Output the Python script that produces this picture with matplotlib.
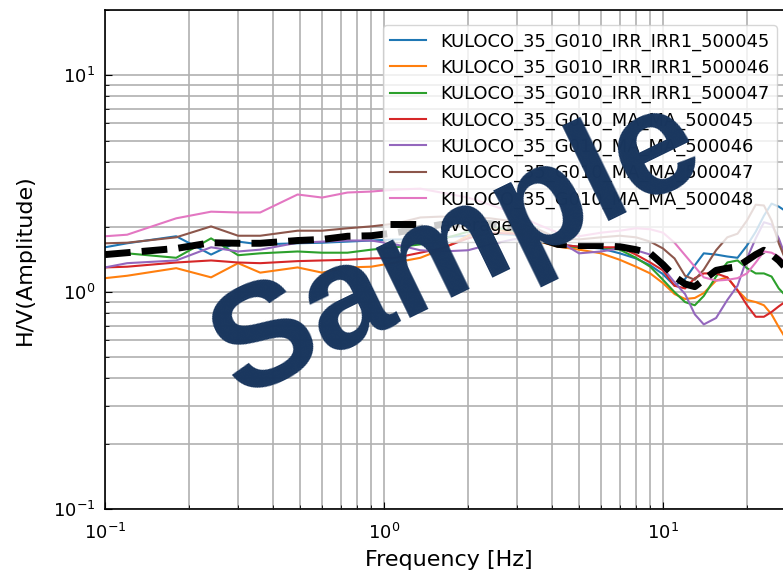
import matplotlib
matplotlib.use("Agg")
import matplotlib.pyplot as plt
from matplotlib import font_manager

# H/V spectral ratios per recording
freq = [0.1, 0.12, 0.18, 0.24, 0.3, 0.36, 0.49, 0.6, 0.74, 0.9, 1.1, 1.35, 1.6,
        2.0, 2.4, 2.9, 3.5, 4.2, 5.0, 6.0, 7.0, 8.0, 9.0, 10, 11, 12, 13, 14,
        15.5, 17, 18.5, 20, 21.5, 23, 24.5, 26, 28]

labels = ["KULOCO_35_G010_IRR_IRR1_500045",
          "KULOCO_35_G010_IRR_IRR1_500046",
          "KULOCO_35_G010_IRR_IRR1_500047",
          "KULOCO_35_G010_MA_MA_500045",
          "KULOCO_35_G010_MA_MA_500046",
          "KULOCO_35_G010_MA_MA_500047",
          "KULOCO_35_G010_MA_MA_500048"]

hv_irr_45 = [1.61, 1.68, 1.81, 1.49, 1.71, 1.66, 1.68, 1.69, 1.71, 1.73, 1.75, 1.75, 1.79,
             1.82, 1.86, 1.84, 1.77, 1.66, 1.62, 1.59, 1.51, 1.43, 1.33, 1.21, 1.07, 1.15,
             1.33, 1.51, 1.49, 1.46, 1.44, 1.64, 1.90, 2.25, 2.56, 2.48, 2.33]
hv_irr_46 = [1.16, 1.19, 1.29, 1.17, 1.36, 1.23, 1.30, 1.23, 1.30, 1.31, 1.37, 1.44, 1.57,
             1.82, 1.97, 1.88, 1.73, 1.62, 1.57, 1.51, 1.41, 1.31, 1.22, 1.10, 0.98, 0.93,
             0.94, 0.99, 1.13, 1.17, 1.02, 0.92, 0.90, 0.87, 0.79, 0.69, 0.59]
hv_irr_47 = [1.52, 1.51, 1.44, 1.77, 1.48, 1.51, 1.54, 1.52, 1.52, 1.57, 1.61, 1.66, 1.75,
             1.90, 2.01, 1.92, 1.77, 1.64, 1.61, 1.61, 1.57, 1.44, 1.31, 1.14, 1.00, 0.90,
             0.87, 0.96, 1.18, 1.37, 1.40, 1.29, 1.22, 1.22, 1.18, 1.04, 0.94]
hv_ma_45 = [1.30, 1.31, 1.37, 1.40, 1.37, 1.36, 1.39, 1.40, 1.41, 1.43, 1.44, 1.52, 1.59,
            1.77, 1.88, 1.86, 1.77, 1.66, 1.62, 1.61, 1.61, 1.49, 1.37, 1.26, 1.07, 1.04,
            1.16, 1.22, 1.22, 1.17, 1.02, 0.87, 0.77, 0.77, 0.81, 0.86, 0.92]
hv_ma_46 = [1.30, 1.36, 1.40, 1.61, 1.54, 1.57, 1.69, 1.71, 1.73, 1.73, 1.66, 1.56, 1.54,
            1.56, 1.66, 1.75, 1.79, 1.73, 1.51, 1.54, 1.59, 1.56, 1.49, 1.29, 1.11, 0.98,
            0.79, 0.71, 0.76, 0.92, 1.07, 1.43, 1.77, 2.10, 2.05, 1.77, 1.37]
hv_ma_47 = [1.68, 1.69, 1.79, 2.01, 1.82, 1.82, 1.92, 1.92, 1.97, 2.01, 2.07, 2.21, 2.23,
            2.21, 2.19, 2.12, 1.97, 1.77, 1.75, 1.79, 1.82, 1.79, 1.71, 1.59, 1.43, 1.19,
            1.14, 1.27, 1.56, 1.79, 1.86, 2.14, 2.53, 2.51, 2.14, 1.68, 1.33]
hv_ma_48 = [1.81, 1.84, 2.19, 2.35, 2.33, 2.33, 2.82, 2.73, 2.88, 2.91, 2.97, 3.00, 2.88,
            2.73, 2.53, 2.33, 2.07, 1.88, 1.81, 1.88, 1.92, 1.97, 1.95, 1.88, 1.69, 1.48,
            1.31, 1.17, 1.13, 1.14, 1.16, 1.22, 1.37, 1.54, 1.52, 1.46, 1.33]
hv_mean = [1.49, 1.52, 1.59, 1.69, 1.68, 1.68, 1.73, 1.75, 1.81, 1.82, 1.88, 1.97, 2.05,
           2.07, 2.07, 1.99, 1.79, 1.66, 1.64, 1.64, 1.62, 1.57, 1.51, 1.34, 1.18, 1.09,
           1.06, 1.14, 1.26, 1.29, 1.31, 1.40, 1.49, 1.56, 1.49, 1.40, 1.26]

curves = [hv_irr_45, hv_irr_46, hv_irr_47, hv_ma_45, hv_ma_46, hv_ma_47, hv_ma_48]

fig = plt.figure(figsize=(7.83, 5.78), dpi=100)
# axes run slightly past the right edge of the image, as in the reference
ax = fig.add_axes([105 / 783, 69 / 578, 687 / 783, 499 / 578])

for hv, lab in zip(curves, labels):
    ax.plot(freq, hv, lw=1.5, label=lab)
ax.plot(freq, hv_mean, "k--", lw=5, label="average")

ax.set_xscale("log")
ax.set_yscale("log")
ax.set_xlim(0.1, 29)
ax.set_ylim(0.1, 20)
ax.grid(True, which="both", color="#b0b0b0", lw=1.2)
ax.tick_params(which="both", direction="in", labelsize=13)
ax.tick_params(which="major", length=5)
ax.tick_params(which="minor", length=3)
ax.tick_params(axis="x", which="both", pad=10)
ax.tick_params(axis="y", which="both", pad=7)
for sp in ax.spines.values():
    sp.set_linewidth(1.2)

ax.set_xlabel("Frequency [Hz]", fontsize=16, labelpad=5)
ax.set_ylabel("H/V(Amplitude)", fontsize=16, labelpad=13)

ax.legend(loc="upper right", fontsize=12.9, borderaxespad=0.85,
          labelspacing=0.45, handlelength=2.0, handletextpad=0.8,
          framealpha=0.8)

# watermark
installed = {f.name for f in font_manager.fontManager.ttflist}
if "Liberation Sans Narrow" in installed:
    wm_family, wm_size = "Liberation Sans Narrow", 126
else:
    wm_family, wm_size = "Liberation Sans", 106
fig.text(458 / 783, 1 - 250 / 578, "Sample", fontsize=wm_size, fontweight="bold",
         family=wm_family, color="#19365e", rotation=26, ha="center", va="center",
         rotation_mode="anchor", zorder=10)

fig.savefig("out.png", dpi=100)
